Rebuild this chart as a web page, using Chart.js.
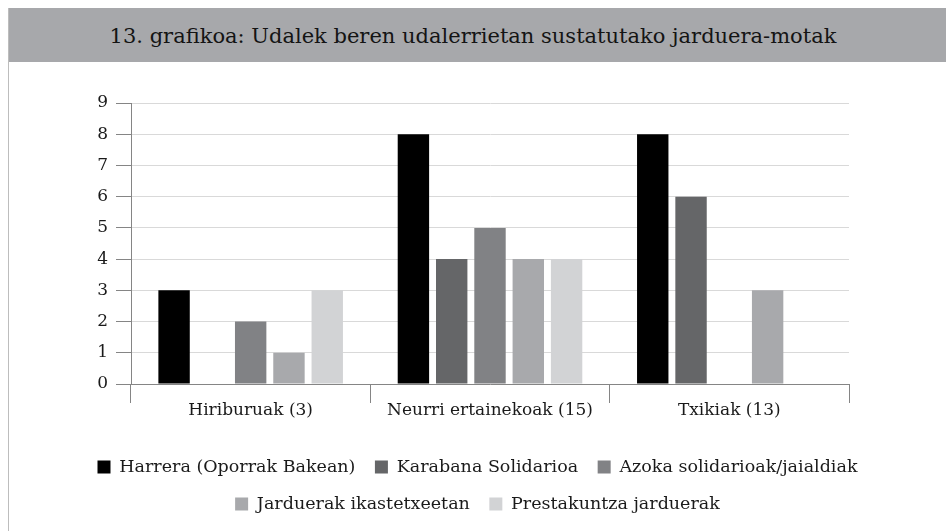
<!DOCTYPE html>
<html>
<head>
<meta charset="utf-8">
<script src="https://cdn.jsdelivr.net/npm/chart.js@4/dist/chart.umd.min.js"></script>
<style>
  body { margin: 0; background: #fff; }
  #frame {
    position: absolute; left: 8px; top: 8px; width: 938px; height: 523px;
    border-left: 1px solid #bdbdbd;
  }
  #title {
    height: 54px; line-height: 56px; background: #a7a8ab; text-align: center;
    padding-right: 10px;
    font-family: "DejaVu Serif", serif; font-size: 21px; color: #141414;
  }
  canvas { display: block; }
</style>
</head>
<body>
<div id="frame">
  <div id="title">13. grafikoa: Udalek beren udalerrietan sustatutako jarduera-motak</div>
  <canvas id="myChart" width="937" height="469"></canvas>
</div>
<script>
// Data for the chart
const categories = ["Hiriburuak (3)", "Neurri ertainekoak (15)", "Txikiak (13)"];
const seriesNames = [
  "Harrera (Oporrak Bakean)",
  "Karabana Solidarioa",
  "Azoka solidarioak/jaialdiak",
  "Jarduerak ikastetxeetan",
  "Prestakuntza jarduerak"
];
const harrera = [3, 8, 8];
const karabana = [0, 4, 6];
const azoka = [2, 5, 0];
const ikastetxeetan = [1, 4, 3];
const prestakuntza = [3, 4, 0];
const yTicks = [0, 1, 2, 3, 4, 5, 6, 7, 8, 9];

const colors = ["#000000", "#656668", "#818285", "#a8a9ac", "#d2d3d5"];
const values = [harrera, karabana, azoka, ikastetxeetan, prestakuntza];

const font = { family: "'DejaVu Serif', serif", size: 17 };
const legendFont = { family: "'DejaVu Serif', serif", size: 17.5 };
const axisColor = "#858585";

const data = {
  labels: categories,
  datasets: seriesNames.map((name, i) => ({
    label: name,
    data: values[i],
    backgroundColor: colors[i],
    categoryPercentage: 0.8,
    barPercentage: 0.82
  }))
};

const config = {
  type: "bar",
  data: data,
  options: {
    responsive: false,
    animation: false,
    layout: { padding: { top: 41, bottom: 8.25, left: 0, right: 0 } },
    plugins: {
      legend: {
        position: "bottom",
        labels: { font: legendFont, color: "#1a1a1a", boxWidth: 13, boxHeight: 13, padding: 19.5 }
      },
      tooltip: { enabled: false }
    },
    scales: {
      x: {
        grid: { drawOnChartArea: false, tickLength: 19, tickColor: axisColor, offset: true },
        border: { color: axisColor },
        ticks: { font: font, color: "#1a1a1a", padding: -3, maxRotation: 0 },
        afterFit: (s) => { s.height = 54.75; }
      },
      y: {
        min: 0,
        max: 9,
        grid: { color: "#d9d9d9", tickLength: 15, tickColor: axisColor },
        border: { color: axisColor },
        ticks: {
          stepSize: 1, font: font, color: "#1a1a1a", padding: 8,
          callback: (v) => yTicks.includes(v) ? String(v) : ""
        },
        afterFit: (s) => { s.width = 122; }
      },
      spacer: {
        type: "linear",
        position: "right",
        grid: { display: false },
        border: { display: false },
        ticks: { display: false },
        afterFit: (s) => { s.width = 97; }
      }
    }
  }
};

// Render chart
const myChart = new Chart(document.getElementById("myChart"), config);
</script>
</body>
</html>
